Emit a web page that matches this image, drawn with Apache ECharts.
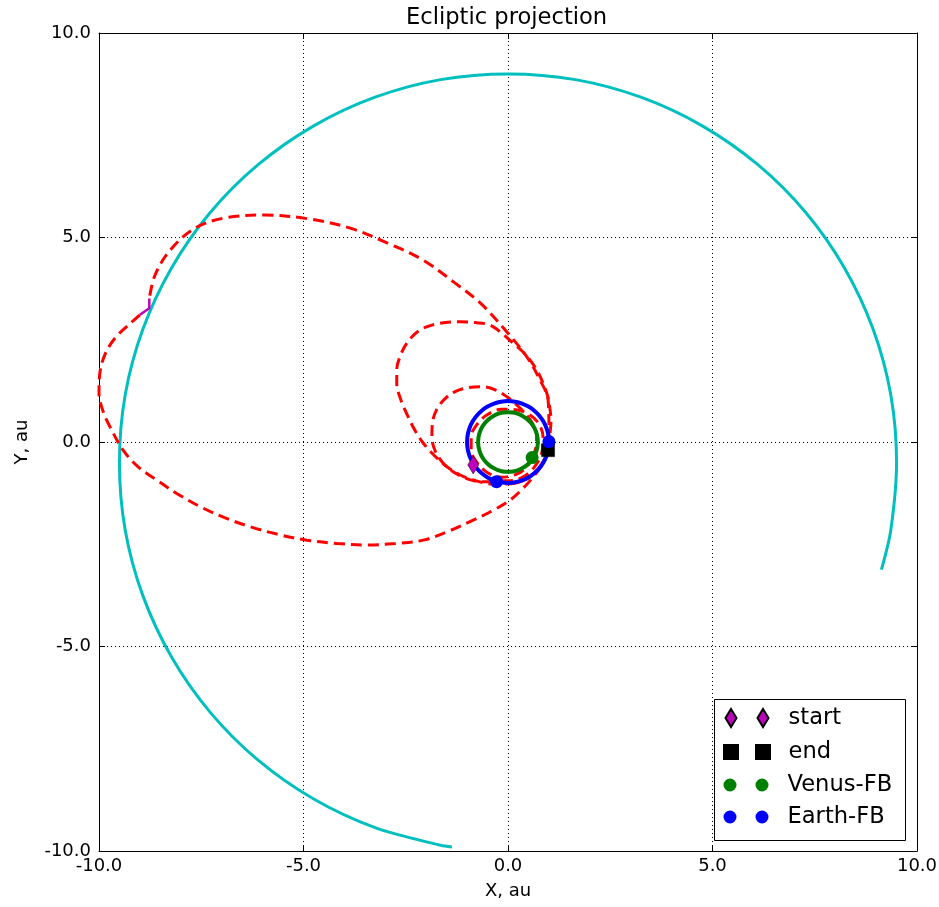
<!DOCTYPE html>
<html>
<head>
<meta charset="utf-8">
<script src="https://cdn.jsdelivr.net/npm/echarts@6/dist/echarts.min.js"></script>
<style>
html,body{margin:0;padding:0;background:#fff;}
#chart{width:939px;height:907px;}
</style>
</head>
<body>
<div id="chart"></div>
<script>
// ---- data (au) ----
var xTicks = [-10, -5, 0, 5, 10];
var yTicks = [-10, -5, 0, 5, 10];

var outerOrbit = [[9.13,-3.12],[9.36,-2.15],[9.5,-0.5],[9.36,1.15],[8.93,2.75],[8.23,4.25],[7.28,5.61],[6.11,6.78],[4.75,7.73],[3.25,8.43],[1.65,8.86],[0,9.0],[-1.65,8.86],[-3.25,8.43],[-4.75,7.73],[-6.11,6.78],[-7.28,5.61],[-8.23,4.25],[-8.93,2.75],[-9.36,1.15],[-9.5,-0.5],[-9.36,-2.15],[-8.93,-3.75],[-8.23,-5.25],[-7.28,-6.61],[-6.11,-7.78],[-4.75,-8.73],[-3.25,-9.43],[-1.65,-9.86],[-1.37,-9.9]];

var earthOrbit = [[1,0],[0.985,0.174],[0.94,0.342],[0.866,0.5],[0.766,0.643],[0.643,0.766],[0.5,0.866],[0.342,0.94],[0.174,0.985],[0,1],[-0.174,0.985],[-0.342,0.94],[-0.5,0.866],[-0.643,0.766],[-0.766,0.643],[-0.866,0.5],[-0.94,0.342],[-0.985,0.174],[-1,0],[-0.985,-0.174],[-0.94,-0.342],[-0.866,-0.5],[-0.766,-0.643],[-0.643,-0.766],[-0.5,-0.866],[-0.342,-0.94],[-0.174,-0.985],[0,-1],[0.174,-0.985],[0.342,-0.94],[0.5,-0.866],[0.643,-0.766],[0.766,-0.643],[0.866,-0.5],[0.94,-0.342],[0.985,-0.174],[1,0]];

var venusOrbit = [[0.73,0],[0.719,0.127],[0.686,0.25],[0.632,0.365],[0.559,0.469],[0.469,0.559],[0.365,0.632],[0.25,0.686],[0.127,0.719],[0,0.73],[-0.127,0.719],[-0.25,0.686],[-0.365,0.632],[-0.469,0.559],[-0.559,0.469],[-0.632,0.365],[-0.686,0.25],[-0.719,0.127],[-0.73,0],[-0.719,-0.127],[-0.686,-0.25],[-0.632,-0.365],[-0.559,-0.469],[-0.469,-0.559],[-0.365,-0.632],[-0.25,-0.686],[-0.127,-0.719],[0,-0.73],[0.127,-0.719],[0.25,-0.686],[0.365,-0.632],[0.469,-0.559],[0.559,-0.469],[0.632,-0.365],[0.686,-0.25],[0.719,-0.127],[0.73,0]];

var leg1 = [[-0.85,-0.56],[-0.62,-0.79],[-0.32,-0.93],[0.02,-0.95],[0.36,-0.86],[0.64,-0.62],[0.82,-0.28],[0.86,0.1],[0.76,0.44],[0.52,0.67],[0.19,0.79],[-0.17,0.8],[-0.5,0.67],[-0.75,0.44],[-0.9,0.13],[-0.9,-0.2],[-0.76,-0.5],[-0.5,-0.75],[-0.15,-0.86],[0.2,-0.79],[0.45,-0.62],[0.59,-0.38]];

var leg2 = [[0.59,-0.38],[0.69,-0.1],[0.7,0.15],[0.62,0.42],[0.45,0.66],[0.22,0.9],[-0.02,1.1],[-0.3,1.27],[-0.62,1.35],[-0.95,1.33],[-1.28,1.24],[-1.55,1.05],[-1.75,0.78],[-1.85,0.45],[-1.86,0.12],[-1.78,-0.22],[-1.6,-0.5],[-1.35,-0.72],[-1.05,-0.88],[-0.68,-0.97],[-0.28,-0.97]];

var leg3 = [[-0.28,-0.97],[0.15,-1.0],[0.55,-0.83],[0.86,-0.48],[1.02,-0.05],[1.03,0.21],[1.05,0.5],[1.03,0.78],[0.97,1.12],[0.86,1.43],[0.72,1.73],[0.54,2.0],[0.35,2.22],[0.13,2.41],[-0.15,2.66],[-0.44,2.86],[-0.8,2.92],[-1.17,2.94],[-1.68,2.9],[-2.15,2.74],[-2.45,2.45],[-2.64,2.09],[-2.72,1.76],[-2.72,1.43],[-2.63,1.06],[-2.48,0.7],[-2.3,0.33],[-2.07,-0.03],[-1.8,-0.33],[-1.5,-0.6],[-1.18,-0.8],[-0.85,-0.93],[-0.35,-1.03],[0.2,-1.0],[0.62,-0.78],[0.9,-0.4],[1.0,0.0]];

var leg4 = [[1.0,0.0],[1.0,0.36],[0.98,1.03],[0.78,1.52],[0.46,2.08],[-0.07,2.74],[-0.68,3.4],[-1.3,3.89],[-2.08,4.45],[-2.89,4.84],[-3.86,5.23],[-4.84,5.45],[-5.94,5.55],[-6.92,5.48],[-7.65,5.23],[-8.26,4.69],[-8.63,4.08],[-8.77,3.51]];

var flyby = [[-8.77,3.51],[-8.77,3.27],[-9.0,3.11]];

var leg5 = [[-9.0,3.11],[-9.3,2.84],[-9.6,2.55],[-9.85,2.15],[-9.98,1.68],[-10.0,1.2],[-9.9,0.75],[-9.73,0.37],[-9.41,-0.2],[-9.05,-0.6],[-8.59,-0.93],[-8.08,-1.27],[-7.53,-1.58],[-6.93,-1.85],[-6.31,-2.07],[-5.62,-2.26],[-4.92,-2.4],[-4.18,-2.48],[-3.45,-2.52],[-2.75,-2.48],[-2.07,-2.4],[-1.45,-2.18],[-0.85,-1.91],[-0.38,-1.68],[0.05,-1.42],[0.36,-1.14],[0.62,-0.85],[0.88,-0.48],[0.98,-0.2]];

var startPts = [[-0.85,-0.56]];
var endPts = [[0.98,-0.2]];
var venusFB = [[0.59,-0.38]];
var earthFB = [[-0.28,-0.97],[1.0,0.01]];

var legendNames = ['start','end','Venus-FB','Earth-FB'];

// ---- chart ----
var FONT = 'DejaVu Sans';
var chart = echarts.init(document.getElementById('chart'), null, {renderer:'canvas'});

function fmt(v){ return v.toFixed(1); }

function axisBase(pos, showLabel, isMain, isX){
  var ticks = isX ? xTicks : yTicks;
  return {
    type:'value', position:pos,
    min: ticks[0], max: ticks[ticks.length-1], interval: ticks[1]-ticks[0],
    axisLine:{show:true, onZero:false, lineStyle:{color:'#000', width:1}},
    axisTick:{show:true, inside:true, length:6, lineStyle:{color:'#000', width:1}},
    axisLabel:{show:showLabel, formatter:fmt, fontSize:18, color:'#000', fontFamily:FONT,
      margin: isX ? 6 : 8, showMinLabel:true, showMaxLabel:true, hideOverlap:false},
    splitLine:{show:isMain, lineStyle:{color:'#000', width:1, type:[1,3]}}
  };
}

var xMain = axisBase('bottom', true, true, true);
xMain.name = 'X, au'; xMain.nameLocation = 'middle'; xMain.nameGap = 31;
xMain.nameTextStyle = {fontSize:18, color:'#000', fontFamily:FONT};
var xTop = axisBase('top', false, false, true);
var yMain = axisBase('left', true, true, false);
yMain.name = 'Y, au'; yMain.nameLocation = 'middle'; yMain.nameGap = 68;
yMain.nameTextStyle = {fontSize:18, color:'#000', fontFamily:FONT};
var yRight = axisBase('right', false, false, false);

function lineSeries(name, data, color, width, dash, z, smooth){
  return {
    name:name, type:'line', data:data, xAxisIndex:0, yAxisIndex:0,
    showSymbol:false, symbol:'none', smooth:smooth, z:z, silent:true,
    lineStyle:{color:color, width:width, type:dash, cap:'butt', opacity:1},
    emphasis:{disabled:true}
  };
}

var RED = '#ff0000';
var redDash = [11,6];

var series = [
  lineSeries('outer', outerOrbit, '#00bfbf', 3, 'solid', 2, 0.3),
  lineSeries('traj1', leg1, RED, 3, redDash, 3, 0.35),
  lineSeries('traj2', leg2, RED, 3, redDash, 3, 0.35),
  lineSeries('traj3', leg3, RED, 3, redDash, 3, 0.35),
  lineSeries('traj4', leg4, RED, 3, redDash, 3, 0.35),
  lineSeries('traj5', leg5, RED, 3, redDash, 3, 0.35),
  lineSeries('flyby', flyby, '#bf00bf', 2.5, 'solid', 3, false),
  lineSeries('earthOrbit', earthOrbit, '#0000ff', 4, 'solid', 4, 0.3),
  lineSeries('venusOrbit', venusOrbit, '#008000', 4, 'solid', 4, 0.3),
  {name:legendNames[0], type:'scatter', data:startPts, symbol:'diamond', symbolSize:[11,18], z:5,
    itemStyle:{color:'#bf00bf', borderColor:'#000', borderWidth:0.5, opacity:1}},
  {name:legendNames[1], type:'scatter', data:endPts, symbol:'rect', symbolSize:13, z:5,
    itemStyle:{color:'#000', borderColor:'#000', borderWidth:0.5, opacity:1}},
  {name:legendNames[2], type:'scatter', data:venusFB, symbol:'circle', symbolSize:13, z:5,
    itemStyle:{color:'#008000', borderColor:'#008000', borderWidth:0, opacity:1}},
  {name:legendNames[3], type:'scatter', data:earthFB, symbol:'circle', symbolSize:13, z:5,
    itemStyle:{color:'#0000ff', borderColor:'#0000ff', borderWidth:0, opacity:1}}
];

var iconDiamond = 'path://M5.5,0 L11,9 L5.5,18 L0,9 Z M37.5,0 L43,9 L37.5,18 L32,9 Z';
var iconSquare = 'path://M0,0 L14,0 L14,14 L0,14 Z M32,0 L46,0 L46,14 L32,14 Z';
var iconCircle = 'path://M0,6.5 A6.5,6.5 0 1 1 13,6.5 A6.5,6.5 0 1 1 0,6.5 Z M32,6.5 A6.5,6.5 0 1 1 45,6.5 A6.5,6.5 0 1 1 32,6.5 Z';

function legendItem(name, icon, w, h, left, centerY, padL, color){
  return {
    data:[{name:name, itemStyle:{color:color, opacity:1}}], icon:icon, itemWidth:w, itemHeight:h, left:left, top:centerY-11.5,
    padding:0, itemGap:0, selectedMode:false, z:10, orient:'horizontal',
    textStyle:{fontSize:22.6, color:'#000', fontFamily:FONT, padding:[0,0,0,padL]}
  };
}

var option = {
  animation:false,
  backgroundColor:'#fff',
  title:{text:'Ecliptic projection', left:406, top:7, padding:0,
    textStyle:{fontSize:22.6, fontWeight:'normal', color:'#000', fontFamily:FONT}},
  grid:{left:99, right:22, top:33, bottom:56, containLabel:false, outerBoundsMode:'none'},
  xAxis:[xMain, xTop],
  yAxis:[yMain, yRight],
  legend:[
    legendItem(legendNames[0], iconDiamond, 43, 18, 724.5, 718, 15, '#bf00bf'),
    legendItem(legendNames[1], iconSquare, 46, 14, 723, 752, 13.5, '#000'),
    legendItem(legendNames[2], iconCircle, 45, 13, 723.5, 785, 14, '#008000'),
    legendItem(legendNames[3], iconCircle, 45, 13, 723.5, 817, 14, '#0000ff')
  ],
  graphic:[{type:'rect', z:9, silent:true,
    shape:{x:714.5, y:699.5, width:191, height:141},
    style:{fill:'#fff', stroke:'#000', lineWidth:1}}],
  series:series
};
chart.setOption(option);
</script>
</body>
</html>
